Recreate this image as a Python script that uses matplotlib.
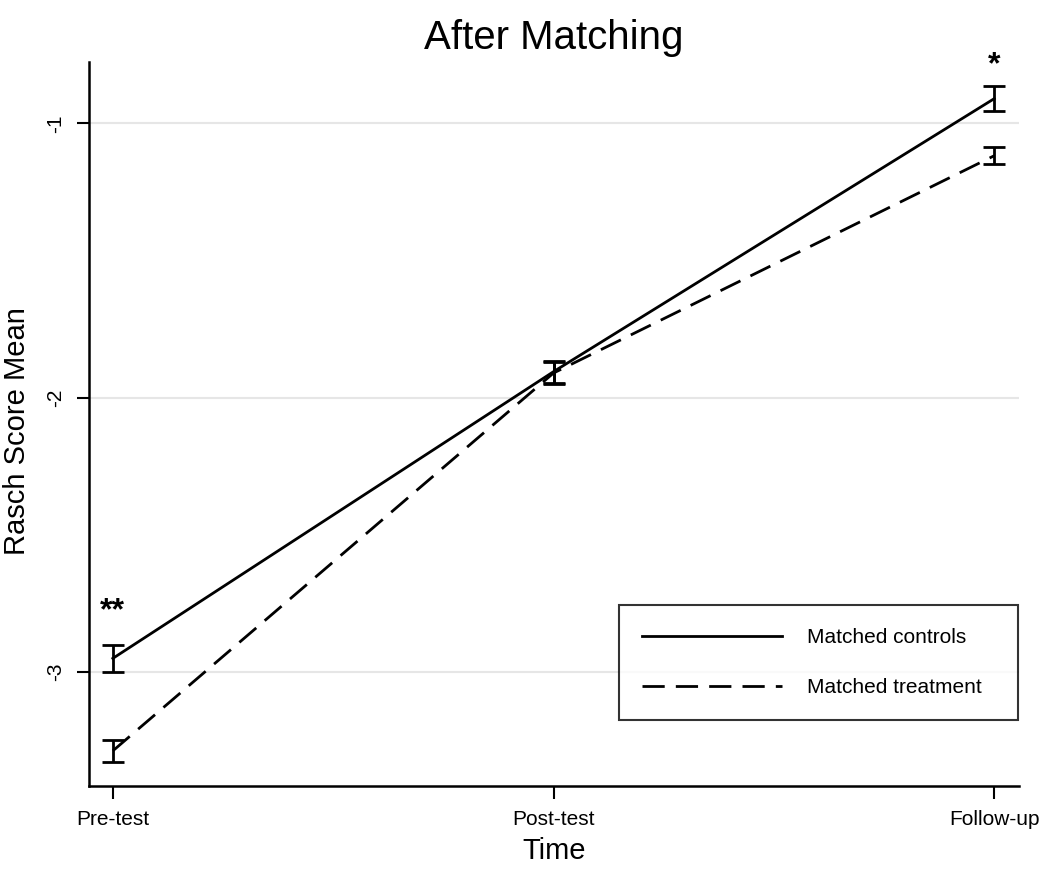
import matplotlib
matplotlib.use('Agg')
import matplotlib.pyplot as plt

times = ['Pre-test', 'Post-test', 'Follow-up']
controls_mean = [-2.95, -1.905, -0.91]
controls_err = [0.048, 0.04, 0.045]
treatment_mean = [-3.287, -1.91, -1.118]
treatment_err = [0.04, 0.04, 0.031]
yticks = [-3, -2, -1]
stars = [(0, -2.78, '**'), (2, -0.79, '*')]

plt.rcParams['font.family'] = ['Liberation Sans', 'DejaVu Sans']

fig = plt.figure(figsize=(10.5, 8.77), dpi=100)
ax = fig.add_axes([0.0848, 0.1038, 0.886, 0.825])
x = list(range(len(times)))

ax.plot(x, controls_mean, color='black', lw=2, label='Matched controls')
ax.plot(x, treatment_mean, color='black', lw=2, dashes=(8, 4), label='Matched treatment')
ax.errorbar(x, controls_mean, yerr=controls_err, fmt='none', ecolor='black',
            elinewidth=2, capsize=8, capthick=2)
ax.errorbar(x, treatment_mean, yerr=treatment_err, fmt='none', ecolor='black',
            elinewidth=2, capsize=8, capthick=2)

for xi, yi, s in stars:
    ax.text(xi, yi, s, ha='center', va='center', fontsize=23, fontweight='bold')

ax.set_xlim(-0.054, 2.057)
ax.set_ylim(-3.415, -0.778)
ax.set_xticks(x)
ax.set_xticklabels(times, fontsize=15)
ax.set_yticks(yticks)
ax.set_yticklabels([str(t) for t in yticks], fontsize=15, rotation=90, va='center')
ax.tick_params(direction='out', length=9, width=1.5, pad=8)
ax.yaxis.grid(True, color='#e6e6e6', lw=1.5)
ax.set_axisbelow(True)
for side in ['top', 'right']:
    ax.spines[side].set_visible(False)
for side in ['left', 'bottom']:
    ax.spines[side].set_linewidth(1.8)

ax.set_title('After Matching', fontsize=29, pad=10)
ax.set_xlabel('Time', fontsize=21, labelpad=6)
ax.set_ylabel('Rasch Score Mean', fontsize=21)
ax.yaxis.set_label_coords(-0.062, 0.49)

leg = ax.legend(loc='lower left', bbox_to_anchor=(0.570, 0.091, 0.4286, 0.17),
                mode='expand', fontsize=15, frameon=True, fancybox=False,
                edgecolor='black', handlelength=6.7, handletextpad=1.2,
                borderpad=1.1, labelspacing=1.5, borderaxespad=0)
leg.get_frame().set_linewidth(1.5)

fig.savefig('out.png', dpi=100, facecolor='white')
